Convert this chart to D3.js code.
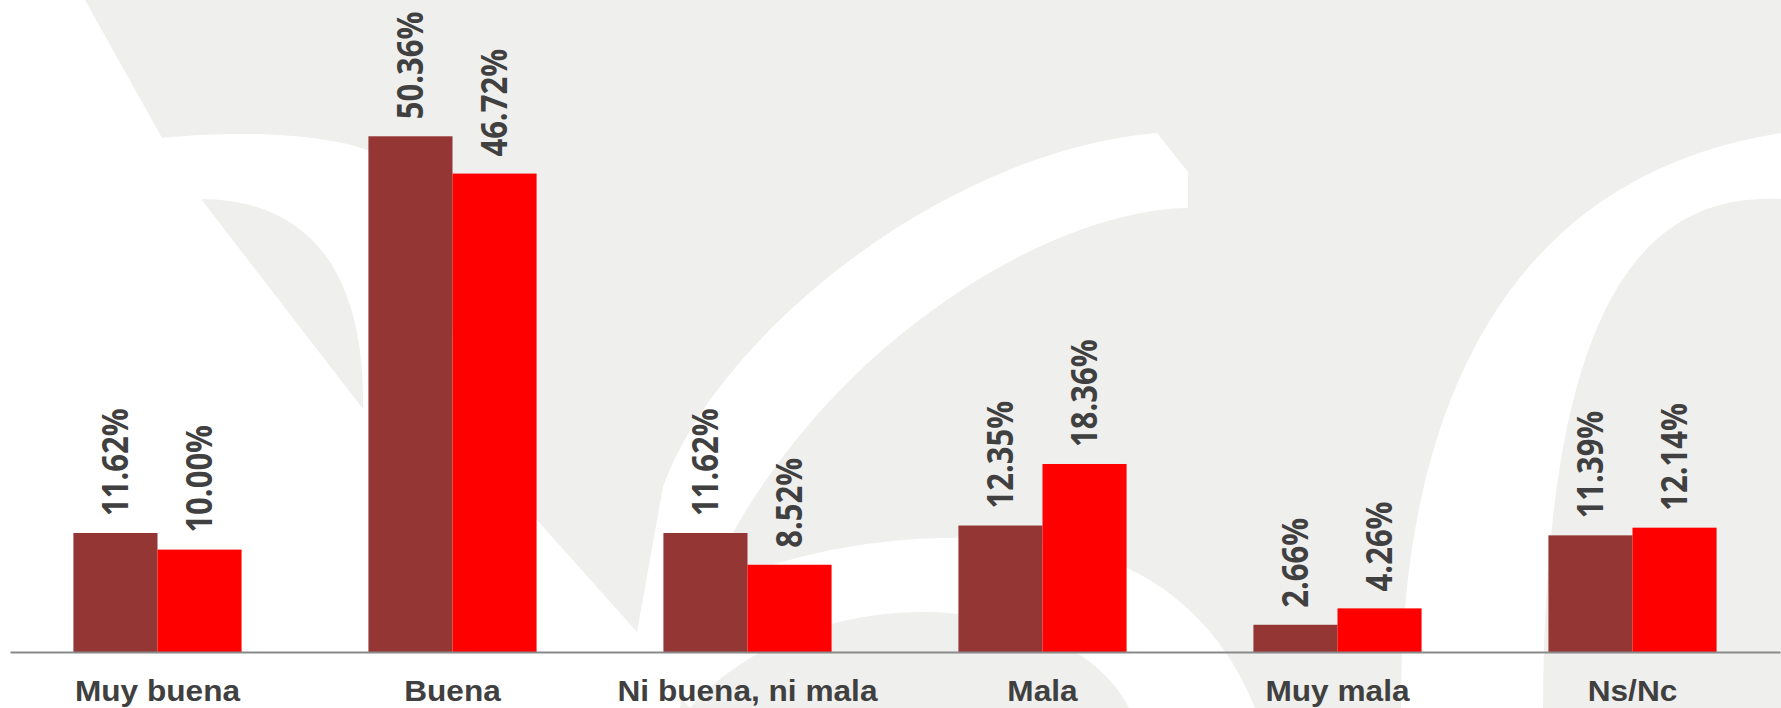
<!DOCTYPE html>
<html>
<head>
<meta charset="utf-8">
<script src="https://cdn.jsdelivr.net/npm/d3@7"></script>
<style>
    body { margin: 0; overflow: hidden; background: #ffffff; }
</style>
</head>
<body>
<div id="chart-area"></div>
<script>

// Data
const categories = ["Muy buena", "Buena", "Ni buena, ni mala", "Mala", "Muy mala", "Ns/Nc"];
const serieA = [11.62, 50.36, 11.62, 12.35, 2.66, 11.39];
const serieB = [10.00, 46.72, 8.52, 18.36, 4.26, 12.14];
const seriesKeys = ["serieA", "serieB"];
const seriesColors = ["#943634", "#ff0000"];

class GroupedBars {

    constructor(parentElement) {
        this.parentElement = parentElement;
    }

    initVis() {
        let vis = this;

        vis.width = 1781;
        vis.height = 708;
        vis.baseline = 652;

        vis.svg = d3.select("#" + vis.parentElement)
            .append("svg")
            .attr("width", vis.width)
            .attr("height", vis.height);

        // light grey watermark behind the chart
        vis.drawWatermark();

        // Scales
        vis.x = d3.scaleBand()
            .domain(categories)
            .range([10, 1780])
            .paddingInner(0.43)
            .paddingOuter(0.215);
        vis.xInner = d3.scaleBand()
            .domain(seriesKeys)
            .range([0, vis.x.bandwidth()]);
        vis.y = d3.scaleLinear()
            .domain([0, 63.67])
            .range([vis.baseline, 0]);

        vis.chart = vis.svg.append("g");

        vis.wrangleData();
    }

    drawWatermark() {
        let vis = this;
        vis.svg.append("rect")
            .attr("width", vis.width)
            .attr("height", vis.height)
            .attr("fill", "#efefee");

        let whitePaths = [
            "M0,0 L85,0 L162,138 C260,128 340,138 372,152 L537,520 L637,632 L640,708 L0,708 Z",
            "M1157,133 L1188,172 L1188,208 C1040,210 800,360 700,600 L680,708 L630,708 L637,632 L663,487 C720,330 950,150 1157,133 Z",
            "M640,650 C700,560 900,520 1050,545 C1150,560 1220,620 1255,708 L1129,708 C1100,650 1020,615 930,612 C830,610 740,650 690,708 Z",
            "M1401,708 C1400,450 1480,180 1781,133 L1781,199 C1620,190 1545,350 1543,708 Z"
        ];
        vis.svg.selectAll(".wm")
            .data(whitePaths)
            .enter().append("path")
            .attr("class", "wm")
            .attr("d", d => d)
            .attr("fill", "#ffffff");

        // leaf
        vis.svg.append("path")
            .attr("d", "M201,199 C300,200 365,260 363,409 Z")
            .attr("fill", "#efefee");
    }

    wrangleData() {
        let vis = this;
        vis.displayData = categories.map((c, i) => ({
            category: c,
            values: [
                {key: "serieA", value: serieA[i]},
                {key: "serieB", value: serieB[i]}
            ]
        }));
        vis.updateVis();
    }

    updateVis() {
        let vis = this;
        let color = d3.scaleOrdinal().domain(seriesKeys).range(seriesColors);

        let groups = vis.chart.selectAll(".group")
            .data(vis.displayData)
            .enter().append("g")
            .attr("class", "group")
            .attr("transform", d => `translate(${vis.x(d.category)},0)`);

        groups.selectAll("rect")
            .data(d => d.values)
            .enter().append("rect")
            .attr("x", d => vis.xInner(d.key))
            .attr("y", d => vis.y(d.value))
            .attr("width", vis.xInner.bandwidth())
            .attr("height", d => vis.baseline - vis.y(d.value))
            .attr("fill", d => color(d.key));

        // value labels, rotated
        groups.selectAll(".value-label")
            .data(d => d.values)
            .enter().append("text")
            .attr("class", "value-label")
            .attr("transform", d => `translate(${vis.xInner(d.key) + vis.xInner.bandwidth() / 2},${vis.y(d.value) - 17}) scale(1.125,1) rotate(-90)`)
            .attr("dy", "0.35em")
            .attr("text-anchor", "start")
            .attr("font-family", "'Open Sans', sans-serif")
            .attr("font-weight", "bold")
            .attr("font-size", "31px")
            .attr("fill", "#404040")
            .text(d => d.value.toFixed(2) + "%");

        // x axis
        vis.xAxis = d3.axisBottom(vis.x).tickSize(0).tickPadding(0);
        let axisG = vis.svg.append("g")
            .attr("class", "x-axis axis")
            .attr("transform", `translate(0,${vis.baseline})`)
            .call(vis.xAxis);
        axisG.select(".domain")
            .attr("stroke", "#898989")
            .attr("stroke-width", 2);
        axisG.selectAll(".tick text")
            .attr("y", 49)
            .attr("dy", 0)
            .attr("transform", "scale(1.09,1)")
            .attr("font-family", "'Liberation Sans', Arial, sans-serif")
            .attr("font-weight", "bold")
            .attr("font-size", "29px")
            .attr("fill", "#404040");
        // scale around tick centre
        axisG.selectAll(".tick").each(function() {
            let t = d3.select(this).select("text");
            t.attr("transform", null);
        });
        axisG.selectAll(".tick text")
            .attr("transform", "scale(1.09,1)");
    }
}

let chart = new GroupedBars("chart-area");
chart.initVis();

</script>
</body>
</html>
